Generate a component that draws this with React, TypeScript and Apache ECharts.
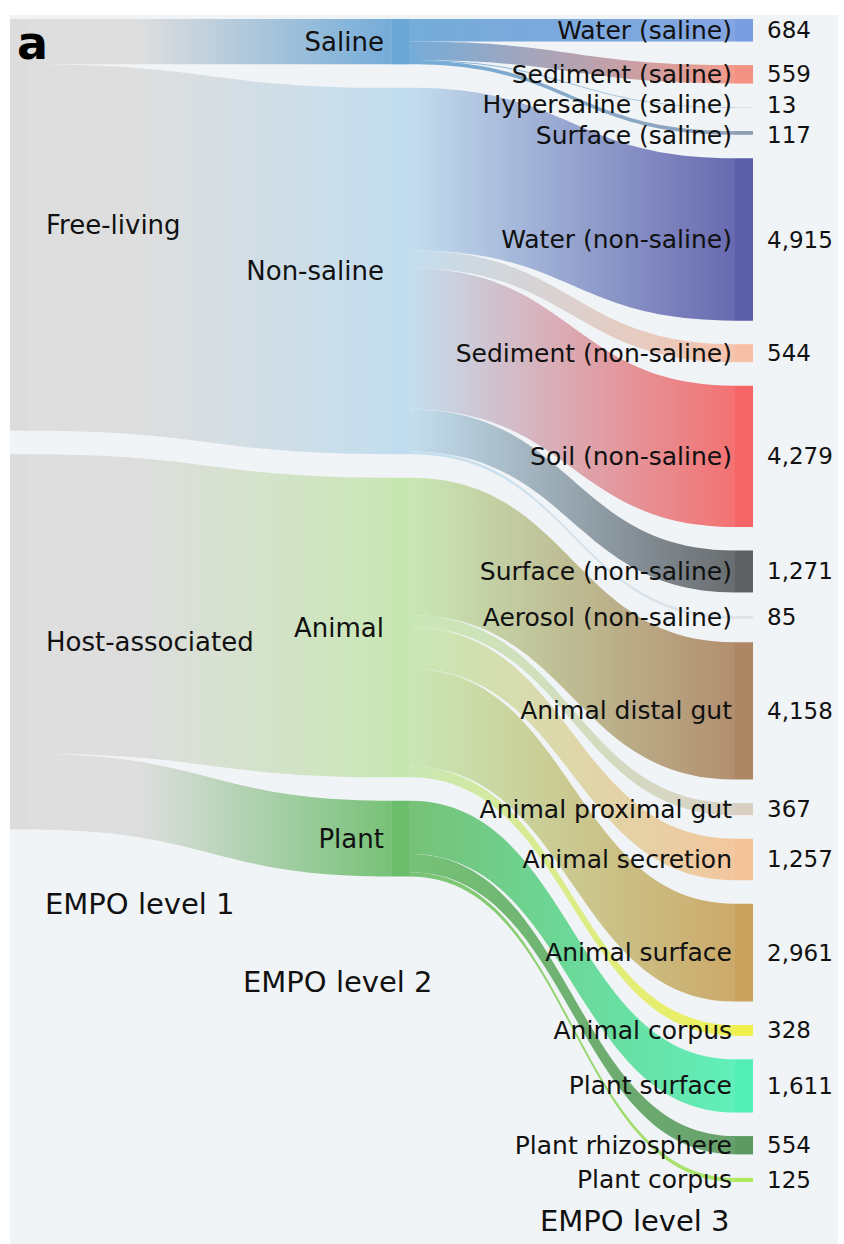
import React, { useEffect, useRef } from 'react';
import * as echarts from 'echarts';

// ---- data ----
const level1Names = ['Free-living', 'Host-associated'];
const level2Names = ['Saline', 'Non-saline', 'Animal', 'Plant'];
const level2Parents = ['Free-living', 'Free-living', 'Host-associated', 'Host-associated'];
const level3Names = [
  'Water (saline)', 'Sediment (saline)', 'Hypersaline (saline)', 'Surface (saline)',
  'Water (non-saline)', 'Sediment (non-saline)', 'Soil (non-saline)', 'Surface (non-saline)', 'Aerosol (non-saline)',
  'Animal distal gut', 'Animal proximal gut', 'Animal secretion', 'Animal surface', 'Animal corpus',
  'Plant surface', 'Plant rhizosphere', 'Plant corpus',
];
const level3Parents = [
  'Saline', 'Saline', 'Saline', 'Saline',
  'Non-saline', 'Non-saline', 'Non-saline', 'Non-saline', 'Non-saline',
  'Animal', 'Animal', 'Animal', 'Animal', 'Animal',
  'Plant', 'Plant', 'Plant',
];
const level3Values = [684, 559, 13, 117, 4915, 544, 4279, 1271, 85, 4158, 367, 1257, 2961, 328, 1611, 554, 125];
const levelTitles = ['EMPO level 1', 'EMPO level 2', 'EMPO level 3'];
const panelLabel = 'a';

// ---- styles ----
const level1Colors = ['#dcdcdc', '#dcdcdc'];
const level2Colors = ['#6aa6d6', '#c0dcee', '#c6e6b0', '#6cbd6c'];
const level3Colors = [
  '#7a9ee0', '#f39282', '#c5cedc', '#8d9db4',
  '#5c5eaa', '#f6bfa6', '#f46666', '#5d6164', '#dfe3e8',
  '#ad8664', '#d8cfc2', '#f3c397', '#c9a35e', '#eff04a',
  '#54efb6', '#5b9960', '#aee85e',
];
// small vertical label nudges (px) for the two tightly packed saline labels
const labelNudge: Record<number, number> = { 2: -2.5, 3: 2.5 };
const FONT = 'DejaVu Sans';
const TEXT = '#111111';
const MID_X = 0.514;

const fmt = (v: number) => v.toLocaleString('en-US');

function buildLinks() {
  const links: any[] = [];
  level2Names.forEach((n, i) => {
    let s = 0;
    level3Names.forEach((_, j) => {
      if (level3Parents[j] === n) s += level3Values[j];
    });
    const src = level1Colors[level1Names.indexOf(level2Parents[i])];
    links.push({
      source: level2Parents[i],
      target: n,
      value: s,
      lineStyle: {
        color: new echarts.graphic.LinearGradient(0, 0, 1, 0, [
          { offset: 0, color: src },
          { offset: 0.3, color: src },
          { offset: 1, color: level2Colors[i] },
        ]),
      },
    });
  });
  level3Names.forEach((n, j) => {
    links.push({ source: level3Parents[j], target: n, value: level3Values[j] });
  });
  return links;
}

function buildNodes(valueSeries: boolean) {
  const nodes: any[] = [];
  level1Names.forEach((n, i) => {
    nodes.push({
      name: n,
      itemStyle: { color: level1Colors[i] },
      label: valueSeries ? { show: false } : { position: 'right', distance: 18, fontSize: 26 },
    });
  });
  level2Names.forEach((n, i) => {
    nodes.push({
      name: n,
      localX: MID_X,
      itemStyle: { color: level2Colors[i] },
      label: valueSeries ? { show: false } : { position: 'left', distance: 8, fontSize: 26 },
    });
  });
  level3Names.forEach((n, i) => {
    const offset = [0, labelNudge[i] || 0];
    nodes.push({
      name: n,
      value: level3Values[i],
      itemStyle: { color: level3Colors[i] },
      label: valueSeries
        ? { show: true, position: 'right', distance: 14, lineHeight: 23, offset, formatter: () => fmt(level3Values[i]) }
        : { position: 'left', distance: 3, lineHeight: 23, offset },
    });
  });
  return nodes;
}

const common = {
  type: 'sankey',
  left: 10,
  right: 91,
  top: 19,
  bottom: 62,
  nodeWidth: 18,
  nodeGap: 23.5,
  layoutIterations: 0,
  draggable: false,
  emphasis: { disabled: true },
};

export default function App() {
  const ref = useRef<HTMLDivElement>(null);
  useEffect(() => {
    if (!ref.current) return;
    const chart = echarts.init(ref.current, undefined, { renderer: 'svg' });
    const titleStyle = { fontFamily: FONT, fontSize: 29, fontWeight: 'normal', color: TEXT };
    chart.setOption({
      animation: false,
      backgroundColor: '#ffffff',
      title: [
        { text: panelLabel, left: 17, top: 20, padding: 0, textStyle: { fontFamily: FONT, fontSize: 46, fontWeight: 'bold', color: '#000' } },
        { text: levelTitles[0], left: 45, top: 889, padding: 0, textStyle: titleStyle },
        { text: levelTitles[1], left: 243, top: 967, padding: 0, textStyle: titleStyle },
        { text: levelTitles[2], left: 540, top: 1206, padding: 0, textStyle: titleStyle },
      ],
      graphic: [
        { type: 'rect', z: -10, silent: true, shape: { x: 10, y: 15, width: 828, height: 1229 }, style: { fill: '#f1f4f6' } },
      ],
      series: [
        {
          ...common,
          data: buildNodes(false),
          links: buildLinks(),
          lineStyle: { color: 'gradient', opacity: 0.92, curveness: 0.5 },
          label: { fontFamily: FONT, fontSize: 25, color: TEXT },
        },
        {
          ...common,
          silent: true,
          data: buildNodes(true),
          links: buildLinks(),
          itemStyle: { opacity: 0 },
          lineStyle: { opacity: 0 },
          label: { fontFamily: FONT, fontSize: 23, color: TEXT },
        },
      ],
    });
    return () => chart.dispose();
  }, []);
  return (
    <div style={{ position: 'absolute', left: 0, top: 0, width: 844, height: 1244, background: '#fff' }}>
      <div ref={ref} style={{ width: 844, height: 1244 }} />
    </div>
  );
}
